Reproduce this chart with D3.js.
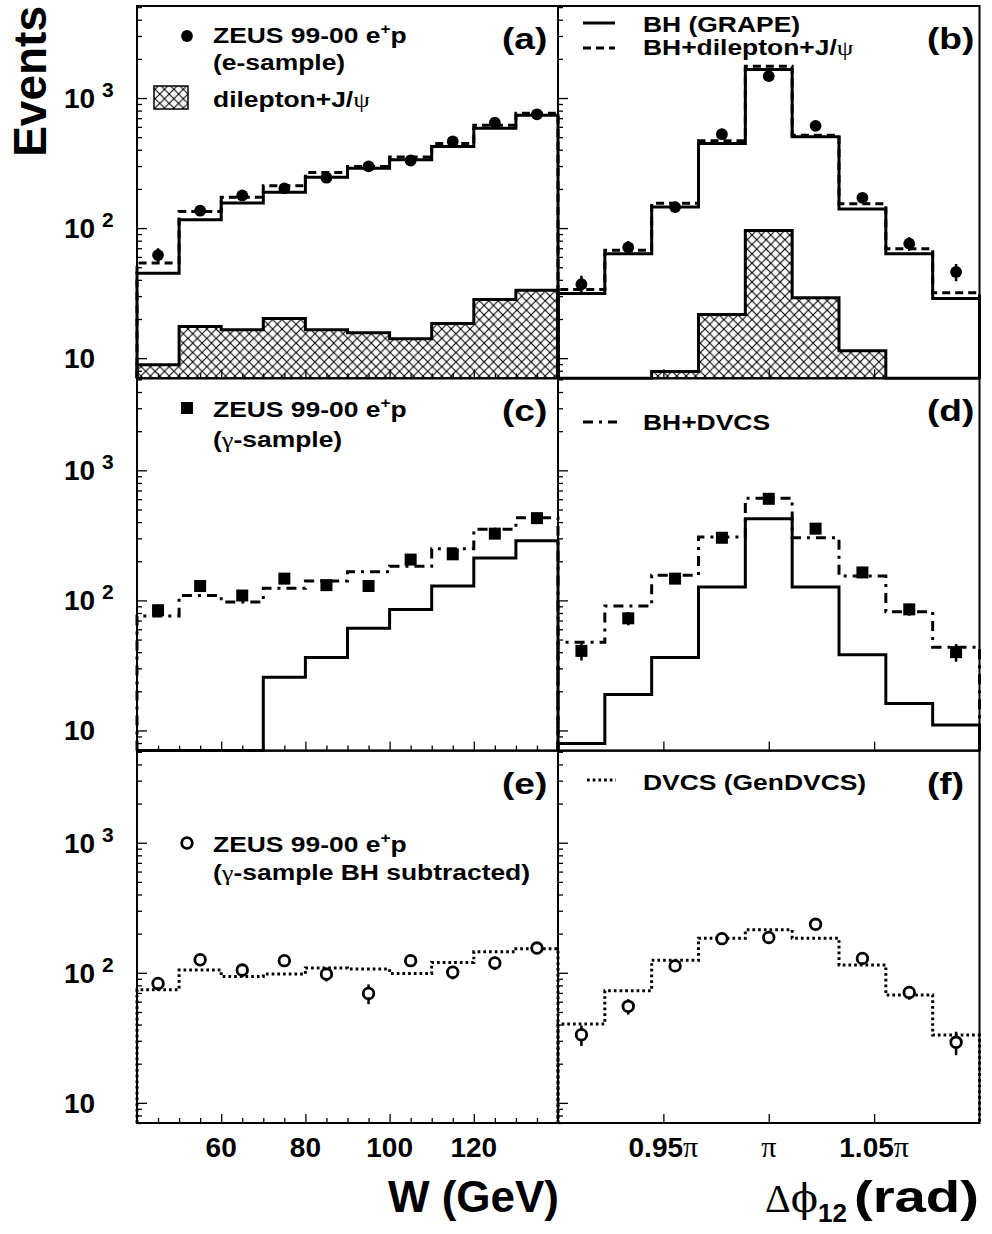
<!DOCTYPE html>
<html><head><meta charset="utf-8">
<script src="https://cdn.jsdelivr.net/npm/d3@7/dist/d3.min.js"></script>
<style>
body{margin:0;background:#fff}
text{font-family:"Liberation Sans",Arial,Helvetica,sans-serif;font-weight:bold;fill:#000}
</style></head>
<body><svg id="c" width="992" height="1234"></svg>
<script>
// ---------------- data ----------------
const wEdges = [40, 50, 60, 70, 80, 90, 100, 110, 120, 130, 140];           // W (GeV)
const phiEdges = [162, 166, 170, 174, 178, 182, 186, 190, 194, 198];          // delta phi (deg)
const wTicks = [60, 80, 100, 120];
const wTickLabels = ["60", "80", "100", "120"];
const phiTicks = [171, 180, 189];
const phiTickLabels = ["0.95", "", "1.05"];   // followed by pi
const yTicks = [10, 100, 1000];
const yTickExp = ["", "2", "3"];

// (a) e-sample vs W
const aData  = [62, 136, 178, 202, 244, 298, 331, 463, 647, 750];
const aErr   = [8, 12, 13, 14, 16, 17, 18, 21, 25, 27];
const aBH    = [45, 116, 156, 189, 246, 288, 335, 424, 586, 736];
const aBHdl  = [54, 134, 173, 212, 267, 298, 352, 447, 618, 765];
const aDl    = [8.9, 17.5, 16.5, 20.2, 16.5, 15.7, 14.1, 18.5, 28.3, 33.3];
// (b) e-sample vs dphi
const bData  = [37, 71, 145, 527, 1473, 611, 171, 76, 46];
const bErr   = [6, 8.5, 12, 23, 38, 25, 13, 9, 7];
const bBH    = [31.4, 63.6, 145, 447, 1657, 503, 140, 63.6, 28.8];
const bBHdl  = [33.7, 67.5, 155, 469, 1758, 518, 154, 69.5, 31.8];
const bDl    = [0, 0, 7.9, 21.7, 96, 29.1, 11.4, 0, 0];
// (c) gamma-sample vs W
const cData  = [84, 129, 109, 147, 131, 129, 206, 226, 326, 429];
const cErr   = [9, 11, 10, 12, 11, 11, 14, 15, 18, 21];
const cBHdv  = [76, 109, 97, 124, 141, 166, 183, 250, 352, 432];
const cBH    = [0, 0, 0, 25.6, 36.4, 61, 85, 129, 212, 288];
// (d) gamma-sample vs dphi
const dData  = [40.9, 72.8, 147, 303, 604, 356, 164, 85.3, 40];
const dErr   = [6.4, 8.5, 12, 17, 25, 19, 13, 9, 6.3];
const dBHdv  = [47.7, 90.5, 156, 307, 611, 303, 154, 81.9, 43.7];
const dBH    = [7.95, 18.9, 36.4, 127, 424, 127, 38.2, 16.1, 11.0];
// (e) BH subtracted vs W
const eData  = [82.8, 126, 105, 124, 97.7, 69.4, 124, 101, 119, 155];
const eErr   = [10, 13, 12, 13, 12, 12, 13, 12, 14, 15];
const eDVCS  = [74.1, 105, 93.7, 97.7, 109, 107, 98.8, 120, 145, 153];
// (f) BH subtracted vs dphi
const fData  = [33.4, 55.2, 113, 183, 187, 236, 129, 70.6, 29.2];
const fErr   = [6, 7.5, 11, 14, 14, 16, 12, 8.5, 6];
const fDVCS  = [40.4, 72.8, 125, 184, 214, 184, 115, 67.4, 33.2];

// ---------------- layout ----------------
const svg = d3.select("#c");
const X0 = 137, X1 = 558, X2 = 979.5;
const rowTop = [6, 378.3, 750.7], rowH = 372.3;
const yMin = 7, yMax = 5100;
const xW = d3.scaleLinear().domain([40, 140]).range([X0, X1]);
const xP = d3.scaleLinear().domain([162, 198]).range([X1, X2]);
const yR = rowTop.map(t => d3.scaleLog().domain([yMin, yMax]).range([t + rowH, t]));

const defs = svg.append("defs");
const hp = 9.4;
const pat = defs.append("pattern").attr("id", "hatch").attr("patternUnits", "userSpaceOnUse")
  .attr("width", hp).attr("height", hp);
pat.append("rect").attr("width", hp).attr("height", hp).attr("fill", "#fff");
pat.append("path").attr("d", `M0,0L${hp},${hp}M${hp},0L0,${hp}`)
  .attr("stroke", "#000").attr("stroke-width", 1.1).attr("fill", "none");

const STY = {
  solid:   {dash: null},
  dashed:  {dash: "8,5"},
  dashdot: {dash: "10,6,3,6"},
  dotted:  {dash: "2.7,3"}
};

function stepPath(edges, vals, x, y) {
  const yb = y.range()[0];
  const yy = v => (v > y.domain()[0] ? y(v) : yb);
  let d = `M${x(edges[0])},${yb}`;
  vals.forEach((v, i) => { d += `V${yy(v)}H${x(edges[i + 1])}`; });
  return d + `V${yb}`;
}

function drawHist(g, edges, vals, x, y, style, hatch) {
  const p = g.append("path").attr("d", stepPath(edges, vals, x, y))
    .attr("stroke", "#000").attr("stroke-width", 3)
    .attr("fill", hatch ? "url(#hatch)" : "none");
  if (STY[style].dash) p.attr("stroke-dasharray", STY[style].dash);
}

function drawPoints(g, edges, vals, errs, x, y, marker) {
  const cx = i => x((edges[i] + edges[i + 1]) / 2);
  g.selectAll(null).data(vals).enter().append("line")
    .attr("x1", (d, i) => cx(i)).attr("x2", (d, i) => cx(i))
    .attr("y1", (d, i) => y(d + errs[i])).attr("y2", (d, i) => y(Math.max(d - errs[i], 1)))
    .attr("stroke", "#000").attr("stroke-width", 2.5);
  if (marker === "circle") {
    g.selectAll(null).data(vals).enter().append("circle")
      .attr("cx", (d, i) => cx(i)).attr("cy", d => y(d)).attr("r", 5.9).attr("fill", "#000");
  } else if (marker === "square") {
    g.selectAll(null).data(vals).enter().append("rect")
      .attr("x", (d, i) => cx(i) - 6).attr("y", d => y(d) - 6).attr("width", 12).attr("height", 12).attr("fill", "#000");
  } else {
    g.selectAll(null).data(vals).enter().append("circle")
      .attr("cx", (d, i) => cx(i)).attr("cy", d => y(d)).attr("r", 5.3)
      .attr("fill", "#fff").attr("stroke", "#000").attr("stroke-width", 2.8);
  }
}

function yAxis(g, xpos, y, withLabels) {
  const minor = [];
  [1, 10, 100, 1000].forEach(b => { for (let k = 2; k <= 9; k++) { const v = b * k; if (v >= yMin && v <= yMax) minor.push(v); } });
  g.append("g").attr("transform", `translate(${xpos},0)`)
    .call(d3.axisLeft(y).tickValues(minor).tickSize(-5).tickFormat(""))
    .call(s => s.select(".domain").remove())
    .selectAll("line").attr("stroke-width", 1.3);
  g.append("g").attr("transform", `translate(${xpos},0)`)
    .call(d3.axisLeft(y).tickValues(yTicks).tickSize(-10).tickFormat(""))
    .call(s => s.select(".domain").remove())
    .selectAll("line").attr("stroke-width", 1.3);
  if (withLabels) {
    yTicks.forEach((v, i) => {
      g.append("text").attr("x", 64).attr("y", y(v) + 10).attr("font-size", 28).text("10");
      if (yTickExp[i]) g.append("text").attr("x", 102).attr("y", y(v) - 1).attr("font-size", 21).text(yTickExp[i]);
    });
  }
}

function xAxisW(g, y0) {
  const minor = d3.range(45, 140, 5).filter(v => !wTicks.includes(v));
  g.append("g").attr("transform", `translate(0,${y0})`)
    .call(d3.axisBottom(xW).tickValues(minor).tickSize(-5).tickFormat(""))
    .call(s => s.select(".domain").remove()).selectAll("line").attr("stroke-width", 1.3);
  g.append("g").attr("transform", `translate(0,${y0})`)
    .call(d3.axisBottom(xW).tickValues(wTicks).tickSize(-9).tickFormat(""))
    .call(s => s.select(".domain").remove()).selectAll("line").attr("stroke-width", 1.3);
}
function xAxisP(g, y0) {
  g.append("g").attr("transform", `translate(0,${y0})`)
    .call(d3.axisBottom(xP).tickValues(phiTicks).tickSize(-9).tickFormat(""))
    .call(s => s.select(".domain").remove()).selectAll("line").attr("stroke-width", 1.3);
}

const SERIF = "'Liberation Serif','DejaVu Serif',serif";
function rich(parent, x, y, size, sx, segs, anchor) {
  const t = parent.append("text").attr("transform", `translate(${x},${y}) scale(${sx},1)`)
    .attr("font-size", size);
  if (anchor) t.attr("text-anchor", anchor);
  segs.forEach(s => {
    const ts = t.append("tspan").text(s.t);
    if (s.size) ts.attr("font-size", s.size);
    if (s.dy) ts.attr("dy", s.dy);
    if (s.serif) ts.attr("font-family", s.serif === true ? SERIF : s.serif).attr("font-weight", "normal");
  });
  return t;
}

// ---------------- panels ----------------
const panels = [
  {row: 0, x: xW, edges: wEdges, label: "(a)"},
  {row: 0, x: xP, edges: phiEdges, label: "(b)"},
  {row: 1, x: xW, edges: wEdges, label: "(c)"},
  {row: 1, x: xP, edges: phiEdges, label: "(d)"},
  {row: 2, x: xW, edges: wEdges, label: "(e)"},
  {row: 2, x: xP, edges: phiEdges, label: "(f)"}
];
const content = [
  g => { drawHist(g, wEdges, aDl, xW, yR[0], "solid", true); drawHist(g, wEdges, aBH, xW, yR[0], "solid");
         drawHist(g, wEdges, aBHdl, xW, yR[0], "dashed"); drawPoints(g, wEdges, aData, aErr, xW, yR[0], "circle"); },
  g => { drawHist(g, phiEdges, bDl, xP, yR[0], "solid", true); drawHist(g, phiEdges, bBH, xP, yR[0], "solid");
         drawHist(g, phiEdges, bBHdl, xP, yR[0], "dashed"); drawPoints(g, phiEdges, bData, bErr, xP, yR[0], "circle"); },
  g => { drawHist(g, wEdges, cBH, xW, yR[1], "solid"); drawHist(g, wEdges, cBHdv, xW, yR[1], "dashdot");
         drawPoints(g, wEdges, cData, cErr, xW, yR[1], "square"); },
  g => { drawHist(g, phiEdges, dBH, xP, yR[1], "solid"); drawHist(g, phiEdges, dBHdv, xP, yR[1], "dashdot");
         drawPoints(g, phiEdges, dData, dErr, xP, yR[1], "square"); },
  g => { drawHist(g, wEdges, eDVCS, xW, yR[2], "dotted"); drawPoints(g, wEdges, eData, eErr, xW, yR[2], "open"); },
  g => { drawHist(g, phiEdges, fDVCS, xP, yR[2], "dotted"); drawPoints(g, phiEdges, fData, fErr, xP, yR[2], "open"); }
];

panels.forEach((p, k) => {
  const y = yR[p.row];
  const [xa, xb] = p.x.range();
  const id = "clip" + k;
  defs.append("clipPath").attr("id", id).append("rect")
    .attr("x", xa - 2).attr("y", rowTop[p.row]).attr("width", xb - xa + 4).attr("height", rowH + 1.5);
  const g = svg.append("g").attr("clip-path", `url(#${id})`);
  content[k](g);
  const ax = svg.append("g");
  yAxis(ax, xa, y, p.x === xW);
  if (p.x === xW) xAxisW(ax, rowTop[p.row] + rowH); else xAxisP(ax, rowTop[p.row] + rowH);
  svg.append("rect").attr("x", xa).attr("y", rowTop[p.row]).attr("width", xb - xa).attr("height", rowH)
    .attr("fill", "none").attr("stroke", "#000").attr("stroke-width", 2);
  rich(svg, p.x === xW ? 502 : 927, rowTop[p.row] + 43, 29, 1.28, [{t: p.label}]);
});

// ---------------- legends ----------------
const LS = 21.5, LX = 1.23;
const zeus = [{t: "ZEUS 99-00 e"}, {t: "+", size: 14, dy: -9}, {t: "p", dy: 9}];
// (a)
svg.append("circle").attr("cx", 187).attr("cy", 36).attr("r", 5.9);
rich(svg, 213, 43, LS, LX, zeus);
rich(svg, 213, 70, LS, LX, [{t: "(e-sample)"}]);
svg.append("rect").attr("x", 154).attr("y", 86).attr("width", 34).attr("height", 23)
  .attr("fill", "url(#hatch)").attr("stroke", "#000").attr("stroke-width", 1.5);
rich(svg, 213, 107, LS, LX, [{t: "dilepton+J/"}, {t: "ψ", serif: true}]);
// (b)
svg.append("line").attr("x1", 583).attr("x2", 615).attr("y1", 23).attr("y2", 23).attr("stroke", "#000").attr("stroke-width", 3);
rich(svg, 643, 32, LS, LX, [{t: "BH (GRAPE)"}]);
svg.append("line").attr("x1", 583).attr("x2", 615).attr("y1", 48).attr("y2", 48).attr("stroke", "#000").attr("stroke-width", 3).attr("stroke-dasharray", STY.dashed.dash);
rich(svg, 643, 55, LS, LX, [{t: "BH+dilepton+J/"}, {t: "ψ", serif: true}]);
// (c)
svg.append("rect").attr("x", 181).attr("y", 402).attr("width", 12).attr("height", 12);
rich(svg, 213, 417, LS, LX, zeus);
rich(svg, 213, 447, LS, LX, [{t: "("}, {t: "γ", serif: true}, {t: "-sample)"}]);
// (d)
svg.append("line").attr("x1", 583).attr("x2", 617).attr("y1", 422).attr("y2", 422).attr("stroke", "#000").attr("stroke-width", 3).attr("stroke-dasharray", STY.dashdot.dash);
rich(svg, 643, 430, LS, LX, [{t: "BH+DVCS"}]);
// (e)
svg.append("circle").attr("cx", 187).attr("cy", 843).attr("r", 5.3).attr("fill", "#fff").attr("stroke", "#000").attr("stroke-width", 2.8);
rich(svg, 213, 852, LS, LX, zeus);
rich(svg, 213, 880, LS, LX, [{t: "("}, {t: "γ", serif: true}, {t: "-sample BH subtracted)"}]);
// (f)
svg.append("line").attr("x1", 587).attr("x2", 616).attr("y1", 780).attr("y2", 780).attr("stroke", "#000").attr("stroke-width", 3).attr("stroke-dasharray", STY.dotted.dash);
rich(svg, 643, 790, LS, LX, [{t: "DVCS (GenDVCS)"}]);

// ---------------- axis labels ----------------
const yb = rowTop[2] + rowH;
wTicks.forEach((v, i) => svg.append("text").attr("x", xW(v)).attr("y", yb + 34).attr("font-size", 28)
  .attr("text-anchor", "middle").text(wTickLabels[i]));
phiTicks.forEach((v, i) => {
  const t = svg.append("text").attr("x", xP(v)).attr("y", yb + 34).attr("font-size", 28).attr("text-anchor", "middle");
  t.append("tspan").text(phiTickLabels[i]);
  t.append("tspan").text("π").attr("font-family", SERIF).attr("font-weight", "normal").attr("font-size", 30);
});
svg.append("text").attr("transform", "translate(46,6) rotate(-90)").attr("text-anchor", "end")
  .attr("font-size", 46).text("Events");
svg.append("text").attr("x", 559).attr("y", 1212).attr("text-anchor", "end").attr("font-size", 44).text("W (GeV)");
rich(svg, 979, 1212, 44, 1.28, [{t: "(rad)"}], "end");
rich(svg, 847, 1212, 40, 1, [{t: "Δ", serif: true}, {t: "ϕ", serif: "'DejaVu Serif',serif"}, {t: "12", size: 26, dy: 10}], "end");
</script></body></html>
